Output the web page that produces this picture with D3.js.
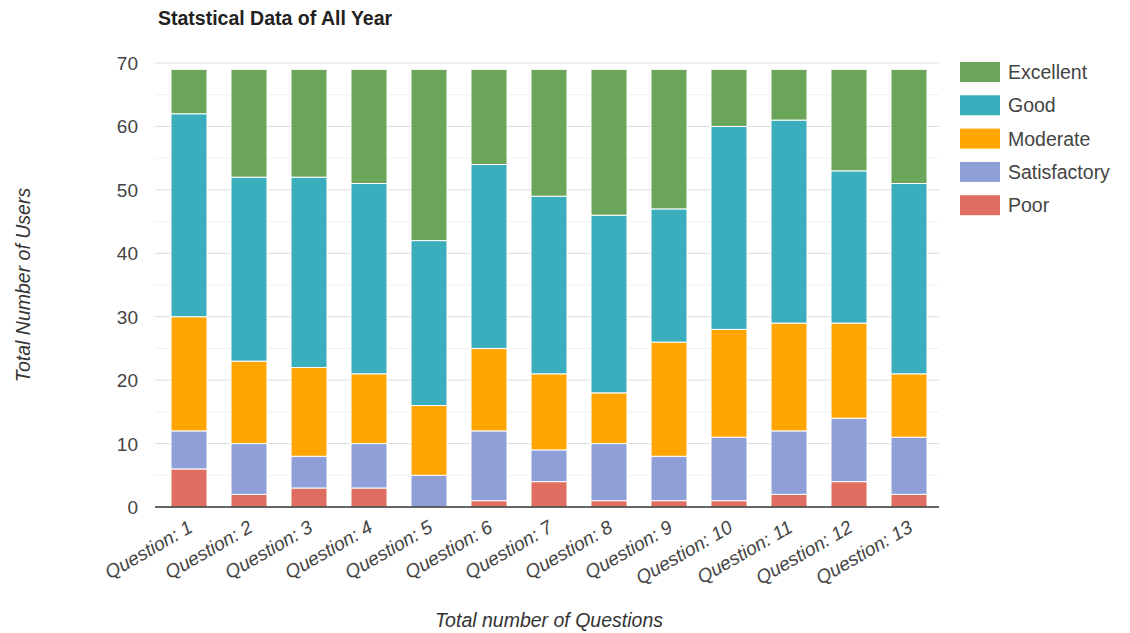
<!DOCTYPE html>
<html><head><meta charset="utf-8">
<script src="https://cdn.jsdelivr.net/npm/d3@7"></script>
<style>body{margin:0;background:#fff;font-family:Arial,"Liberation Sans",sans-serif}</style>
</head><body><svg id="c" width="1130" height="633"></svg>
<script>
const categories = ["Question: 1","Question: 2","Question: 3","Question: 4","Question: 5","Question: 6","Question: 7","Question: 8","Question: 9","Question: 10","Question: 11","Question: 12","Question: 13"];
const seriesNames = ["Poor","Satisfactory","Moderate","Good","Excellent"];
const poor         = [6,2,3,3,0,1,4,1,1,1,2,4,2];
const satisfactory = [6,8,5,7,5,11,5,9,7,10,10,10,9];
const moderate     = [18,13,14,11,11,13,12,8,18,17,17,15,10];
const good         = [32,29,30,30,26,29,28,28,21,32,32,24,30];
const excellent    = [7,17,17,18,27,15,20,23,22,9,8,16,18];
const yTicks = [0,10,20,30,40,50,60,70];
const colors = {Excellent:"#6aa55a",Good:"#3aaebd",Moderate:"#ffa500",Satisfactory:"#8fa0d8",Poor:"#e06e60"};
const legendOrder = ["Excellent","Good","Moderate","Satisfactory","Poor"];

const rows = categories.map((c,i)=>({cat:c,Poor:poor[i],Satisfactory:satisfactory[i],Moderate:moderate[i],Good:good[i],Excellent:excellent[i]}));
const svg = d3.select("#c");
const pLeft=159, pRight=939, pTop=63, pBottom=507;
const x = d3.scaleBand().domain(categories).range([pLeft,pRight]).paddingInner(0.4).paddingOuter(0.2);
const y = d3.scaleLinear().domain([0,70]).range([pBottom,pTop]);

// minor gridlines
svg.append("g").selectAll("line").data(d3.range(5,70,10)).join("line")
  .attr("x1",155).attr("x2",pRight).attr("y1",d=>y(d)).attr("y2",d=>y(d))
  .attr("stroke","#f0f0f0").attr("stroke-width",1);
// major gridlines
svg.append("g").selectAll("line").data(yTicks.slice(1)).join("line")
  .attr("x1",155).attr("x2",pRight).attr("y1",d=>y(d)).attr("y2",d=>y(d))
  .attr("stroke","#dcdcdc").attr("stroke-width",1);

// y labels
svg.append("g").selectAll("text").data(yTicks).join("text")
  .attr("x",138).attr("y",d=>y(d)+7).attr("text-anchor","end")
  .attr("font-size",19).attr("fill","#444").text(d=>d);

const stack = d3.stack().keys(seriesNames)(rows);
svg.append("g").selectAll("g").data(stack).join("g")
  .attr("fill",d=>colors[d.key])
  .selectAll("rect").data(d=>d).join("rect")
  .attr("x",d=>x(d.data.cat)).attr("width",x.bandwidth())
  .attr("y",d=>y(d[1])).attr("height",d=>Math.max(0,y(d[0])-y(d[1])))
  .attr("stroke","#fff").attr("stroke-width",d=>(d[1]-d[0])>0?1:0);

// baseline
svg.append("line").attr("x1",155).attr("x2",pRight).attr("y1",pBottom).attr("y2",pBottom)
  .attr("stroke","#333").attr("stroke-width",1.5);

// x labels
svg.append("g").selectAll("text").data(categories).join("text")
  .attr("transform",d=>`translate(${x(d)+x.bandwidth()/2+5},${pBottom+24}) rotate(-30)`)
  .attr("text-anchor","end").attr("font-size",19).attr("font-style","italic").attr("fill","#444").text(d=>d);

// title
svg.append("text").attr("x",158).attr("y",25).attr("font-size",19.5).attr("font-weight","bold").attr("fill","#222").text("Statstical Data of All Year");
// axis titles
svg.append("text").attr("transform","translate(30,285) rotate(-90)").attr("text-anchor","middle")
  .attr("font-size",19.5).attr("font-style","italic").attr("fill","#333").text("Total Number of Users");
svg.append("text").attr("x",549).attr("y",627).attr("text-anchor","middle")
  .attr("font-size",19.5).attr("font-style","italic").attr("fill","#333").text("Total number of Questions");

// legend
const lg = svg.append("g").selectAll("g").data(legendOrder).join("g")
  .attr("transform",(d,i)=>`translate(960,${62+i*33.3})`);
lg.append("rect").attr("width",40).attr("height",20).attr("fill",d=>colors[d]);
lg.append("text").attr("x",48).attr("y",17).attr("font-size",19.5).attr("fill","#444").text(d=>d);
</script></body></html>
